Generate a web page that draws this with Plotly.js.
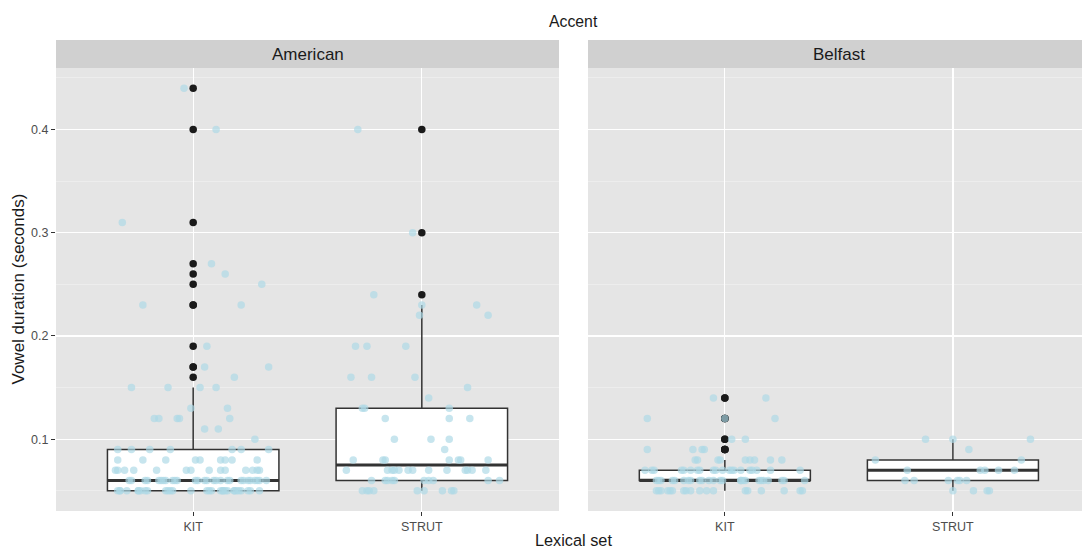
<!DOCTYPE html>
<html>
<head>
<meta charset="utf-8">
<script src="https://cdn.plot.ly/plotly-3.0.1.min.js"></script>
<style>
  html, body { margin: 0; padding: 0; background: #ffffff; }
  #chart { width: 1082px; height: 550px; }
</style>
</head>
<body>
<div id="chart"></div>
<script>
// Lexical sets (x categories) and accents (facets)
const lexicalSets = ['KIT', 'STRUT'];
const accents = ['American', 'Belfast'];
const yTickVals = [0.1, 0.2, 0.3, 0.4];
const yTickText = ['0.1', '0.2', '0.3', '0.4'];

// Vowel durations (s), with the horizontal jitter of each point (category units)
const americanKitDur = [
  0.44, 0.40, 0.31, 0.27, 0.26, 0.25, 0.23, 0.23, 0.19, 0.17, 0.17, 0.16,
  0.15, 0.15, 0.15, 0.15, 0.13, 0.13, 0.12, 0.12, 0.12, 0.12, 0.12, 0.11, 0.11, 0.10,
  0.09, 0.09, 0.09, 0.09, 0.09, 0.09, 0.09,
  0.08, 0.08, 0.08, 0.08, 0.08, 0.08, 0.08, 0.08, 0.08,
  0.07, 0.07, 0.07, 0.07, 0.07, 0.07, 0.07, 0.07, 0.07, 0.07, 0.07, 0.07, 0.07, 0.07,
  0.06, 0.06, 0.06, 0.06, 0.06, 0.06, 0.06, 0.06, 0.06, 0.06, 0.06, 0.06, 0.06, 0.06,
  0.06, 0.06, 0.06, 0.06, 0.06, 0.06, 0.06, 0.06, 0.06, 0.06, 0.06, 0.06, 0.06, 0.06,
  0.05, 0.05, 0.05, 0.05, 0.05, 0.05, 0.05, 0.05, 0.05, 0.05, 0.05, 0.05, 0.05, 0.05, 0.05,
  0.05, 0.05, 0.05, 0.05, 0.05, 0.05, 0.05, 0.05, 0.05, 0.05, 0.05, 0.05, 0.05, 0.05, 0.05
];
const americanKitJit = [
  -0.04, 0.10, -0.31, 0.08, 0.14, 0.30, -0.22, 0.21, 0.06, 0.05, 0.33, 0.18,
  -0.27, -0.11, 0.03, 0.10, -0.01, 0.15, -0.17, -0.15, -0.07, -0.06, 0.16, 0.05, 0.11, 0.27,
  -0.33, -0.27, -0.19, -0.10, 0.17, 0.21, 0.33,
  -0.33, -0.22, -0.12, 0.01, 0.03, 0.12, 0.14, 0.17, 0.28,
  -0.34, -0.33, -0.30, -0.26, -0.16, -0.03, -0.01, 0.07, 0.12, 0.14, 0.23, 0.26, 0.28, 0.29,
  -0.28, -0.21, -0.14, -0.12, -0.09, -0.07, 0.02, 0.05, 0.09, 0.12, 0.15, 0.21, 0.24, 0.27,
  0.28, 0.32, -0.27, -0.20, -0.13, -0.08, 0.01, 0.06, 0.10, 0.16, 0.22, 0.25, 0.29, -0.15,
  -0.33, -0.32, -0.29, -0.24, -0.23, -0.20, -0.12, -0.11, -0.09, -0.01, 0.06, 0.08, 0.12, 0.13, 0.15,
  0.18, 0.19, 0.21, 0.24, 0.29, -0.32, -0.24, -0.21, -0.10, 0.07, 0.13, 0.14, 0.18, 0.20, 0.25
];

const americanStrutDur = [
  0.40, 0.30, 0.24, 0.23, 0.23, 0.22, 0.22, 0.19, 0.19, 0.19, 0.16, 0.16, 0.16,
  0.15, 0.14, 0.13, 0.13, 0.13, 0.12, 0.12, 0.12, 0.10, 0.10, 0.10, 0.09,
  0.08, 0.08, 0.08, 0.08, 0.08, 0.08, 0.08,
  0.07, 0.07, 0.07, 0.07, 0.07, 0.07, 0.07, 0.07, 0.07, 0.07, 0.07, 0.07, 0.07,
  0.06, 0.06, 0.06, 0.06, 0.06, 0.06, 0.06, 0.06, 0.06, 0.06,
  0.05, 0.05, 0.05, 0.05, 0.05, 0.05, 0.05, 0.05, 0.05
];
const americanStrutJit = [
  -0.28, -0.04, -0.21, 0.00, 0.24, -0.01, 0.29, -0.29, -0.24, -0.07, -0.31, -0.22, -0.03,
  0.20, 0.03, -0.26, -0.25, 0.12, -0.16, 0.12, 0.21, -0.12, 0.04, 0.12, 0.10,
  -0.30, -0.17, -0.16, 0.12, 0.16, 0.17, 0.29,
  -0.33, -0.15, -0.13, -0.12, -0.10, -0.06, -0.04, 0.03, 0.11, 0.19, 0.20, 0.22, 0.28,
  -0.22, -0.16, -0.15, -0.13, -0.12, 0.01, 0.03, 0.05, 0.29, 0.34,
  -0.26, -0.24, -0.23, -0.21, -0.02, 0.01, 0.09, 0.13, 0.14
];

const belfastKitDur = [
  0.14, 0.14, 0.12, 0.12, 0.12, 0.10, 0.10, 0.09, 0.09, 0.09, 0.09,
  0.08, 0.08, 0.08, 0.08, 0.08, 0.08, 0.08, 0.08, 0.08,
  0.07, 0.07, 0.07, 0.07, 0.07, 0.07, 0.07, 0.07, 0.07, 0.07,
  0.07, 0.07, 0.07, 0.07, 0.07, 0.07, 0.07, 0.07, 0.07, 0.07,
  0.06, 0.06, 0.06, 0.06, 0.06, 0.06, 0.06, 0.06, 0.06, 0.06, 0.06, 0.06, 0.06,
  0.06, 0.06, 0.06, 0.06, 0.06, 0.06, 0.06, 0.06, 0.06, 0.06, 0.06, 0.06,
  0.05, 0.05, 0.05, 0.05, 0.05, 0.05, 0.05, 0.05, 0.05,
  0.05, 0.05, 0.05, 0.05, 0.05, 0.05, 0.05, 0.05, 0.05
];
const belfastKitJit = [
  -0.05, 0.18, -0.34, 0.00, 0.22, 0.03, 0.09, -0.34, -0.14, -0.10, -0.09,
  -0.13, -0.12, -0.03, -0.02, 0.09, 0.11, 0.13, 0.20, 0.25,
  -0.35, -0.32, -0.31, -0.19, -0.15, -0.12, -0.11, -0.05, -0.04, -0.01,
  0.02, 0.04, 0.07, 0.11, 0.14, 0.20, 0.33, -0.18, 0.03, 0.12,
  -0.30, -0.29, -0.23, -0.18, -0.16, -0.15, -0.11, -0.07, -0.05, -0.02, 0.07, 0.07, 0.09,
  0.15, 0.17, 0.19, 0.26, 0.35, -0.28, -0.22, -0.10, -0.01, 0.08, 0.16, 0.25,
  -0.30, -0.28, -0.25, -0.23, -0.18, -0.17, -0.15, -0.11, -0.08,
  -0.05, 0.09, 0.16, 0.26, 0.33, 0.34, -0.29, -0.24, 0.10
];

const belfastStrutDur = [
  0.10, 0.10, 0.10, 0.09, 0.08, 0.08,
  0.07, 0.07, 0.07, 0.07, 0.07,
  0.06, 0.06, 0.06, 0.06, 0.06, 0.06,
  0.05, 0.05, 0.05, 0.05
];
const belfastStrutJit = [
  -0.12, 0.00, 0.34, 0.07, -0.34, 0.30,
  -0.20, 0.12, 0.14, 0.20, 0.27,
  -0.21, -0.17, -0.02, 0.02, 0.03, 0.06,
  0.00, 0.09, 0.15, 0.16
];

// ---- drawing ----
const groups = [
  { accent: 0, set: 0, dur: americanKitDur,   jit: americanKitJit },
  { accent: 0, set: 1, dur: americanStrutDur, jit: americanStrutJit },
  { accent: 1, set: 0, dur: belfastKitDur,    jit: belfastKitJit },
  { accent: 1, set: 1, dur: belfastStrutDur,  jit: belfastStrutJit }
];

const BOX_W = 0.75;
const EPS = 1e-9;

function quantile(sorted, p) {
  const h = (sorted.length - 1) * p;
  const lo = Math.floor(h), hi = Math.ceil(h);
  return sorted[lo] + (h - lo) * (sorted[hi] - sorted[lo]);
}

function boxStats(values) {
  const s = values.slice().sort((a, b) => a - b);
  const q1 = quantile(s, 0.25), med = quantile(s, 0.5), q3 = quantile(s, 0.75);
  const iqr = q3 - q1;
  const hiLim = q3 + 1.5 * iqr + EPS, loLim = q1 - 1.5 * iqr - EPS;
  const inside = s.filter(v => v >= loLim && v <= hiLim);
  const outliers = s.filter(v => v < loLim || v > hiLim);
  return { q1, med, q3, lo: inside[0], hi: inside[inside.length - 1], outliers };
}

const boxTraces = [], medianTraces = [], outlierTraces = [], jitterTraces = [];

groups.forEach(g => {
  const xa = g.accent === 0 ? 'x' : 'x2';
  const ya = g.accent === 0 ? 'y' : 'y2';
  const xc = g.set + 1;
  const st = boxStats(g.dur);

  boxTraces.push({
    type: 'box', xaxis: xa, yaxis: ya,
    x: [xc], q1: [st.q1], median: [st.med], q3: [st.q3],
    lowerfence: [st.lo], upperfence: [st.hi],
    width: BOX_W, whiskerwidth: 0, boxpoints: false,
    fillcolor: '#FFFFFF',
    line: { color: '#333333', width: 1.5 },
    hoverinfo: 'skip'
  });

  medianTraces.push({
    type: 'scatter', mode: 'lines', xaxis: xa, yaxis: ya,
    x: [xc - BOX_W / 2, xc + BOX_W / 2], y: [st.med, st.med],
    line: { color: '#333333', width: 3 },
    hoverinfo: 'skip'
  });

  outlierTraces.push({
    type: 'scatter', mode: 'markers', xaxis: xa, yaxis: ya,
    x: st.outliers.map(() => xc), y: st.outliers,
    marker: { color: '#1A1A1A', size: 7.5, line: { width: 0 } },
    hoverinfo: 'skip'
  });

  jitterTraces.push({
    type: 'scatter', mode: 'markers', xaxis: xa, yaxis: ya,
    x: g.dur.map((v, i) => xc + g.jit[i]), y: g.dur,
    marker: { color: '#ADD8E6', opacity: 0.68, size: 7.5, line: { width: 0 } },
    hoverinfo: 'skip'
  });
});

const data = [].concat(boxTraces, medianTraces, outlierTraces, jitterTraces);

const PLOT_TOP = 68, PLOT_BOTTOM = 511, PLOT_LEFT = 56, PLOT_W = 1026;
const PLOT_H = PLOT_BOTTOM - PLOT_TOP;
const STRIP_H = 28;

const FAMILY = 'Liberation Sans, Arial, sans-serif';
const tickFont = { family: FAMILY, size: 12.5, color: '#4D4D4D' };
const stripFont = { family: FAMILY, size: 17, color: '#1A1A1A' };

const xBase = {
  tickvals: [1, 2], ticktext: lexicalSets,
  ticks: 'outside', ticklen: 4, tickwidth: 1, tickcolor: '#333333',
  showgrid: true, gridcolor: '#FFFFFF', gridwidth: 1.2,
  zeroline: false, showline: false, tickfont: tickFont, fixedrange: true
};
const yBase = {
  range: [0.0305, 0.4595],
  tickvals: yTickVals, ticktext: yTickText,
  showgrid: true, gridcolor: '#FFFFFF', gridwidth: 1.2,
  minor: { tick0: 0.05, dtick: 0.1, showgrid: true, gridcolor: '#F1F1F1', gridwidth: 0.7, ticks: '' },
  zeroline: false, showline: false, fixedrange: true
};

const layout = {
  width: 1082, height: 550,
  paper_bgcolor: '#FFFFFF', plot_bgcolor: '#E5E5E5',
  margin: { l: PLOT_LEFT, r: 0, t: PLOT_TOP, b: 550 - PLOT_BOTTOM },
  showlegend: false,
  font: { family: FAMILY },
  xaxis: Object.assign({}, xBase, { domain: [0, (559 - PLOT_LEFT) / PLOT_W], range: [0.4, 2.6], anchor: 'y' }),
  xaxis2: Object.assign({}, xBase, { domain: [(588 - PLOT_LEFT) / PLOT_W, 1], range: [0.4, 2.566], anchor: 'y2' }),
  yaxis: Object.assign({}, yBase, {
    anchor: 'x', ticks: 'outside', ticklen: 4, tickwidth: 1, tickcolor: '#333333', tickfont: tickFont
  }),
  yaxis2: Object.assign({}, yBase, { anchor: 'x2', showticklabels: false, ticks: '' }),
  shapes: [
    { type: 'rect', xref: 'x domain', yref: 'paper', x0: 0, x1: 1, y0: 1, y1: 1 + STRIP_H / PLOT_H,
      fillcolor: '#D0D0D0', line: { width: 0 } },
    { type: 'rect', xref: 'x2 domain', yref: 'paper', x0: 0, x1: 1, y0: 1, y1: 1 + STRIP_H / PLOT_H,
      fillcolor: '#D0D0D0', line: { width: 0 } }
  ],
  annotations: [
    { text: accents[0], xref: 'x', yref: 'paper', x: 1.5, y: 1 + (STRIP_H / 2) / PLOT_H,
      xanchor: 'center', yanchor: 'middle', showarrow: false, font: stripFont },
    { text: accents[1], xref: 'x2', yref: 'paper', x: 1.5, y: 1 + (STRIP_H / 2) / PLOT_H,
      xanchor: 'center', yanchor: 'middle', showarrow: false, font: stripFont },
    { text: 'Accent', xref: 'paper', yref: 'paper', x: (573 - PLOT_LEFT) / PLOT_W, y: 1 + (PLOT_TOP - 22) / PLOT_H,
      xanchor: 'center', yanchor: 'middle', showarrow: false,
      font: { family: FAMILY, size: 15.8, color: '#1A1A1A' } },
    { text: 'Lexical set', xref: 'paper', yref: 'paper', x: (573 - PLOT_LEFT) / PLOT_W, y: -(540 - PLOT_BOTTOM) / PLOT_H,
      xanchor: 'center', yanchor: 'middle', showarrow: false,
      font: { family: FAMILY, size: 16.3, color: '#1A1A1A' } },
    { text: 'Vowel duration (seconds)', xref: 'paper', yref: 'paper', x: (18 - PLOT_LEFT) / PLOT_W, y: 0.5,
      xanchor: 'center', yanchor: 'middle', textangle: -90, showarrow: false,
      font: { family: FAMILY, size: 17, color: '#1A1A1A' } }
  ]
};

Plotly.newPlot('chart', data, layout, { displayModeBar: false, staticPlot: true });
</script>
</body>
</html>
